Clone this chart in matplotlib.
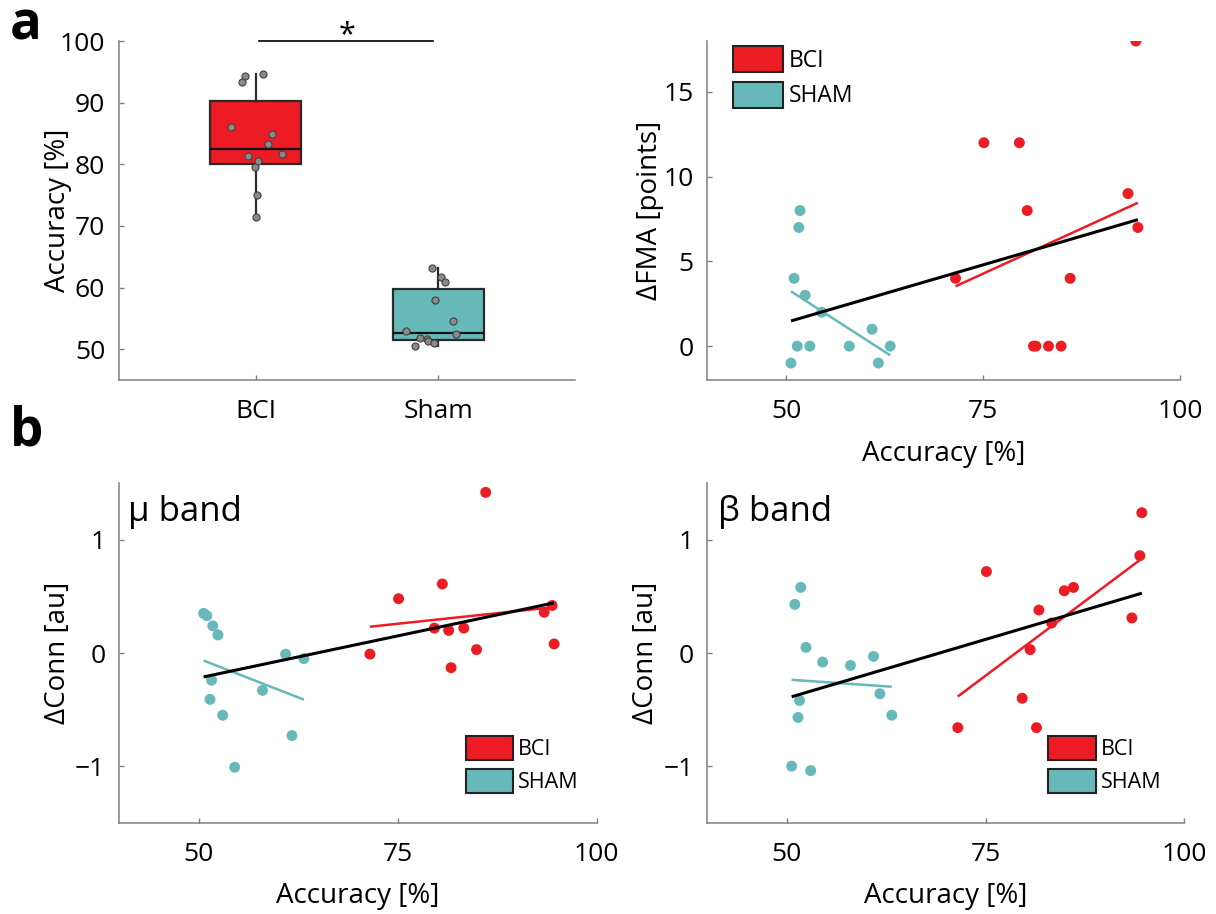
import numpy as np
import matplotlib
matplotlib.use('Agg')
import matplotlib.pyplot as plt
from matplotlib.patches import Patch

plt.rcParams['font.family'] = ['Open Sans', 'DejaVu Sans']

RED = '#ED1C24'
CYAN = '#66B9B8'

# ---------------- data ----------------
groups = ['BCI', 'Sham']
legend_labels = ['BCI', 'SHAM']

bci_acc = [94.65, 94.4, 93.4, 86.05, 84.9, 83.3, 81.7, 81.4, 80.6, 79.6, 75.1, 71.5]
sham_acc = [63.2, 61.7, 60.9, 58.0, 54.5, 53.0, 52.4, 51.75, 51.6, 51.4, 51.0, 50.6]

# horizontal jitter of the individual dots in the box plot
bci_jitter = [0.038, -0.062, -0.078, -0.137, 0.087, 0.067, 0.142, -0.042, 0.011, -0.005, 0.005, 0.002]
sham_jitter = [-0.036, 0.015, 0.035, -0.020, 0.082, -0.177, 0.095, -0.102, -0.060, -0.055, -0.022, -0.126]

# box statistics: q1, median, q3, lower whisker, upper whisker
bci_box = [80.0, 82.5, 90.3, 71.5, 94.65]
sham_box = [51.5, 52.7, 59.7, 50.6, 63.2]

bci_fma = [7, 18, 9, 4, 0, 0, 0, 0, 8, 12, 12, 4]
sham_fma = [0, -1, 1, 0, 2, 0, 3, 8, 7, 0, 4, -1]

bci_mu = [0.08, 0.42, 0.36, 1.42, 0.03, 0.22, -0.13, 0.20, 0.61, 0.22, 0.48, -0.01]
sham_mu = [-0.05, -0.73, -0.01, -0.33, -1.01, -0.55, 0.16, 0.24, -0.24, -0.41, 0.33, 0.35]

bci_beta = [1.24, 0.86, 0.31, 0.58, 0.55, 0.265, 0.38, -0.66, 0.03, -0.40, 0.72, -0.66]
sham_beta = [-0.55, -0.36, -0.03, -0.11, -0.08, -1.04, 0.05, 0.58, -0.42, -0.57, 0.43, -1.00]

acc_ticks = [50, 75, 100]

TICK_FS = 19
LABEL_FS = 20

# ---------------- helpers ----------------
def style(ax):
    for s in ['top', 'right']:
        ax.spines[s].set_visible(False)
    for s in ['left', 'bottom']:
        ax.spines[s].set_color('#808080')
        ax.spines[s].set_linewidth(1.1)
    ax.tick_params(direction='in', length=3.5, width=1.0, color='#808080',
                   labelsize=TICK_FS, labelcolor='black')
    ax.tick_params(axis='y', pad=10)
    ax.tick_params(axis='x', pad=14)


def fitline(ax, x, y, color, lw):
    x = np.asarray(x, float)
    y = np.asarray(y, float)
    k, b = np.polyfit(x, y, 1)
    xs = np.array([x.min(), x.max()])
    ax.plot(xs, k * xs + b, color=color, lw=lw, zorder=4, solid_capstyle='butt')


def legend(ax, x, y, fs):
    handles = [Patch(facecolor=RED, edgecolor='#222222', linewidth=1.5, label=legend_labels[0]),
               Patch(facecolor=CYAN, edgecolor='#222222', linewidth=1.5, label=legend_labels[1])]
    ax.legend(handles=handles, loc='upper left', bbox_to_anchor=(x, y), frameon=False,
              fontsize=fs, handlelength=2.2, handleheight=1.37, handletextpad=0.23,
              labelspacing=0.39, borderpad=0, borderaxespad=0)


def scatter_panel(ax, yb, ys, ylabel):
    style(ax)
    ax.scatter(bci_acc, yb, s=62, color=RED, edgecolors='none', zorder=3)
    ax.scatter(sham_acc, ys, s=62, color=CYAN, edgecolors='none', zorder=3)
    fitline(ax, sham_acc, ys, CYAN, 1.8)
    fitline(ax, bci_acc, yb, RED, 1.8)
    fitline(ax, bci_acc + sham_acc, list(yb) + list(ys), 'black', 2.2)
    ax.set_xlim(40, 100)
    ax.set_xticks(acc_ticks)
    ax.set_xlabel('Accuracy [%]', fontsize=LABEL_FS, labelpad=11)
    ax.set_ylabel(ylabel, fontsize=LABEL_FS)


fig = plt.figure(figsize=(12.16, 9.14), dpi=100)

# ---------------- panel a, box plot ----------------
ax1 = fig.add_axes([0.0979, 0.5842, 0.375, 0.3709])
style(ax1)
stats = []
for name, bx in zip(groups, [bci_box, sham_box]):
    stats.append(dict(label=name, q1=bx[0], med=bx[1], q3=bx[2],
                      whislo=bx[3], whishi=bx[4], fliers=[]))
bp = ax1.bxp(stats, positions=[1, 2], widths=0.5, patch_artist=True,
             showcaps=False, showfliers=False,
             boxprops=dict(edgecolor='#2a2a2a', linewidth=1.6),
             medianprops=dict(color='#111111', linewidth=1.6),
             whiskerprops=dict(color='#2a2a2a', linewidth=1.6))
for patch, c in zip(bp['boxes'], [RED, CYAN]):
    patch.set_facecolor(c)
ax1.scatter(1 + np.array(bci_jitter), bci_acc, s=26, facecolor='#8a8a8a',
            edgecolor='#404040', linewidth=0.8, zorder=4)
ax1.scatter(2 + np.array(sham_jitter), sham_acc, s=26, facecolor='#8a8a8a',
            edgecolor='#404040', linewidth=0.8, zorder=4)
ax1.set_xlim(0.25, 2.75)
ax1.set_ylim(45, 100)
ax1.set_yticks([50, 60, 70, 80, 90, 100])
ax1.set_xticks([1, 2])
ax1.set_xticklabels(groups)
ax1.set_ylabel('Accuracy [%]', fontsize=LABEL_FS)
ax1.yaxis.set_label_coords(-0.104, 0.5)
ax1.plot([1.02, 1.97], [100, 100], color='black', lw=1.2, clip_on=False, zorder=5)
ax1.text(1.5, 99.7, '*', ha='center', va='baseline', fontsize=22, clip_on=False)

# ---------------- panel a, FMA ----------------
ax2 = fig.add_axes([0.5818, 0.5842, 0.3886, 0.3709])
scatter_panel(ax2, bci_fma, sham_fma, 'ΔFMA [points]')
ax2.set_ylim(-2, 18)
ax2.set_yticks([0, 5, 10, 15])
ax2.yaxis.set_label_coords(-0.092, 0.5)
legend(ax2, 0.054, 0.985, 16.5)

# ---------------- panel b, mu ----------------
ax3 = fig.add_axes([0.0981, 0.0999, 0.3926, 0.3713])
scatter_panel(ax3, bci_mu, sham_mu, 'ΔConn [au]')
ax3.set_ylim(-1.5, 1.5)
ax3.set_yticks([-1, 0, 1])
ax3.yaxis.set_label_coords(-0.099, 0.5)
ax3.text(0.019, 0.89, 'μ band', transform=ax3.transAxes, fontsize=25, va='baseline')
legend(ax3, 0.7256, 0.256, 15.5)

# ---------------- panel b, beta ----------------
ax4 = fig.add_axes([0.5817, 0.0999, 0.3923, 0.3713])
scatter_panel(ax4, bci_beta, sham_beta, 'ΔConn [au]')
ax4.set_ylim(-1.5, 1.5)
ax4.set_yticks([-1, 0, 1])
ax4.yaxis.set_label_coords(-0.099, 0.5)
ax4.text(0.022, 0.89, 'β band', transform=ax4.transAxes, fontsize=25, va='baseline')
legend(ax4, 0.715, 0.256, 15.5)

fig.text(10 / 1216, 1 - 40 / 914, 'a', fontsize=38, fontweight='bold', va='baseline')
fig.text(10 / 1216, 1 - 445 / 914, 'b', fontsize=38, fontweight='bold', va='baseline')

fig.savefig('out.png', dpi=100)
